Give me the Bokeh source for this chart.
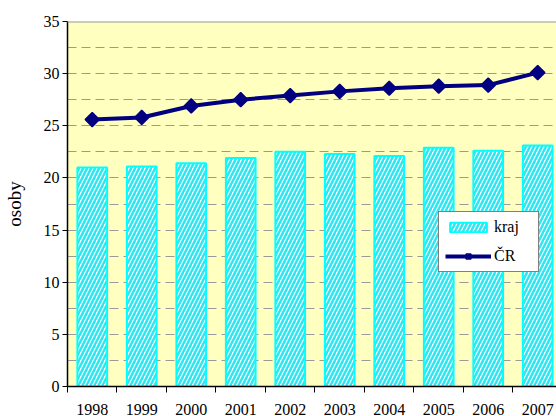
import math
from bokeh.plotting import figure
from bokeh.models import Range1d, FixedTicker, Legend, LegendItem, Span
from bokeh.embed import file_html
from bokeh.resources import INLINE

years = ["1998", "1999", "2000", "2001", "2002", "2003", "2004", "2005", "2006", "2007"]
kraj = [21.0, 21.1, 21.4, 21.9, 22.5, 22.3, 22.1, 22.9, 22.6, 23.1]
cr = [25.6, 25.8, 26.9, 27.5, 27.9, 28.3, 28.6, 28.8, 28.9, 30.1]
y_ticks = [0, 5, 10, 15, 20, 25, 30, 35]
grid_levels = [2.5, 5, 7.5, 10, 12.5, 15, 17.5, 20, 22.5, 25, 27.5, 30, 32.5]

x = list(range(len(years)))
boundaries = [i - 0.5 for i in x]

FONT = "'Liberation Serif', 'Times New Roman', serif"

p = figure(frame_width=491, frame_height=365,
           x_range=Range1d(-0.5, 9.42), y_range=Range1d(0, 35),
           output_backend="svg", toolbar_location=None,
           min_border_left=65, min_border_right=0, min_border_top=21, min_border_bottom=30,
           background_fill_color="#FFFFC0", border_fill_color="white",
           outline_line_color=None)

p.xgrid.visible = False
p.ygrid.ticker = FixedTicker(ticks=grid_levels)
p.ygrid.grid_line_color = "#9a9a9a"
p.ygrid.grid_line_dash = "9 5"
p.ygrid.grid_line_width = 1

top_line = Span(location=35, dimension="width", line_color="#999999", line_width=2)
p.add_layout(top_line)

bars = p.vbar(x=x, top=kraj, width=0.6, bottom=0,
              fill_color="white", line_color="#00FFFF", line_width=2,
              hatch_pattern="/", hatch_color="#2EE6F2", hatch_weight=2.5, hatch_scale=8)

line_r = p.line(x, cr, line_color="#000080", line_width=4)
mark_r = p.scatter(x, cr, marker="square", angle=math.pi / 4, size=10,
                   fill_color="#000080", line_color="#000080", line_width=1.5)

# x axis
p.xaxis.ticker = FixedTicker(ticks=x, minor_ticks=boundaries)
p.xaxis.major_label_overrides = {i: y for i, y in zip(x, years)}
p.xaxis.major_tick_out = 0
p.xaxis.major_tick_in = 0
p.xaxis.minor_tick_out = 6
p.xaxis.minor_tick_in = 0
p.xaxis.minor_tick_line_color = "black"
p.xaxis.major_label_standoff = 11
p.xaxis.axis_line_color = "black"
p.xaxis.axis_line_width = 1.5
p.xaxis.major_label_text_font = FONT
p.xaxis.major_label_text_font_size = "16px"
p.xaxis.major_label_text_color = "black"

# y axis
p.yaxis.ticker = FixedTicker(ticks=y_ticks)
p.yaxis.major_tick_out = 5
p.yaxis.major_tick_in = 0
p.yaxis.minor_tick_line_color = None
p.yaxis.major_tick_line_color = "black"
p.yaxis.major_label_standoff = 3
p.yaxis.axis_line_color = "black"
p.yaxis.axis_line_width = 1.5
p.yaxis.major_label_text_font = FONT
p.yaxis.major_label_text_font_size = "16px"
p.yaxis.major_label_text_color = "black"
p.yaxis.axis_label = "osoby"
p.yaxis.axis_label_text_font = FONT
p.yaxis.axis_label_text_font_size = "19px"
p.yaxis.axis_label_text_font_style = "normal"
p.yaxis.axis_label_text_color = "black"
p.yaxis.axis_label_standoff = 16

legend = Legend(items=[LegendItem(label="kraj", renderers=[bars]),
                       LegendItem(label="ČR", renderers=[line_r, mark_r])],
                location=(371, 114), orientation="vertical",
                glyph_width=46, glyph_height=12, label_height=18, label_width=38,
                spacing=11, padding=6, label_standoff=3, margin=0,
                label_text_font=FONT, label_text_font_size="16px",
                label_text_color="black",
                border_line_color="black", border_line_width=1.5,
                background_fill_color="white", background_fill_alpha=1.0)
p.add_layout(legend)

open("out.html", "w").write(file_html(p, INLINE))
